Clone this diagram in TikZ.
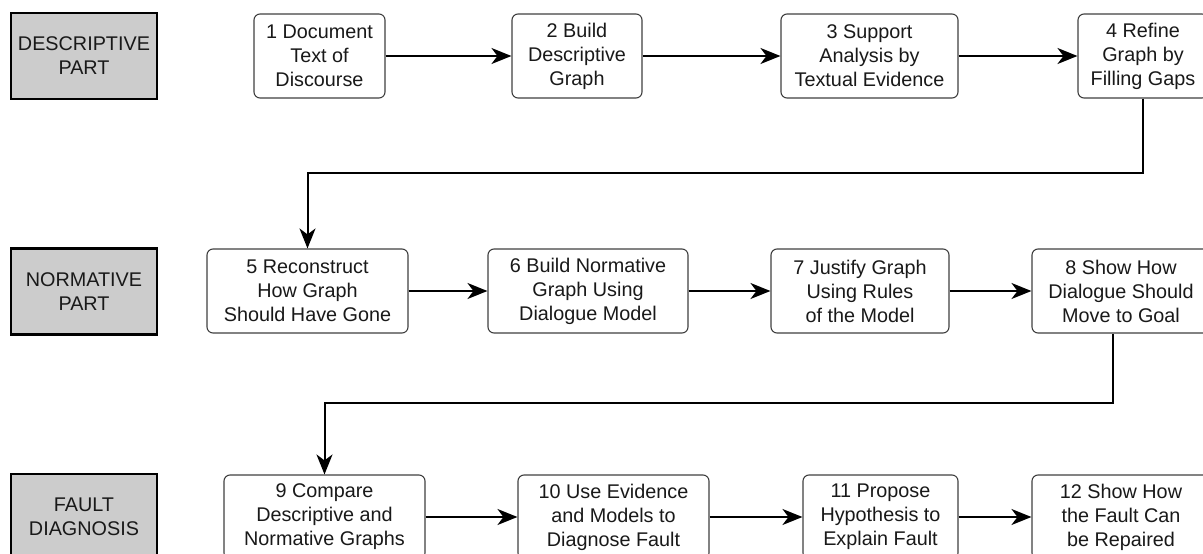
\documentclass[tikz,border=0pt]{standalone}
\usepackage{fontspec}
\setmainfont{Liberation Sans}
\usetikzlibrary{arrows.meta}

\begin{document}
\begin{tikzpicture}[x=1pt,y=-1pt,
    partbox/.style ={draw, line width=2.2pt, fill=black!20, minimum width=146pt, minimum height=86pt,
                     align=center, inner sep=0pt, font=\fontsize{19.8}{24}\selectfont, text=black!90},
    stagebox/.style ={draw=black!75, line width=1.1pt, rounded corners=6pt, fill=white, minimum height=84pt,
                     align=center, inner sep=0pt, font=\fontsize{19.8}{24}\selectfont, text=black!90},
    flow/.style ={line width=2pt, -{Stealth[length=20pt,width=16pt,inset=6pt]}}]
   \useasboundingbox (0,0) rectangle (1203,554);
   \clip (0,0) rectangle (1203,554);
   \node[partbox] (desc) at (84,56) {DESCRIPTIVE\\PART};
   \node[partbox] (norm) at (84,291.5) {NORMATIVE\\PART};
   \node[partbox] (fault) at (84,517) {FAULT\\DIAGNOSIS};
   \node[stagebox, minimum width=131pt] (s1) at (319.5,56) {1 Document\\Text of\\Discourse};
   \node[stagebox, minimum width=130pt] (s2) at (577,56) {2 Build\\Descriptive\\Graph};
   \node[stagebox, minimum width=177pt] (s3) at (869.5,56) {3 Support\\Analysis by\\Textual Evidence};
   \node[stagebox, minimum width=130pt] (s4) at (1143,56) {4 Refine\\Graph by\\Filling Gaps};
   \node[stagebox, minimum width=201pt] (s5) at (307.5,291) {5 Reconstruct\\How Graph\\Should Have Gone};
   \node[stagebox, minimum width=200pt] (s6) at (588,291) {6 Build Normative\\Graph Using\\Dialogue Model};
   \node[stagebox, minimum width=178pt] (s7) at (860,291) {7 Justify Graph\\Using Rules\\of the Model};
   \node[stagebox, minimum width=178pt] (s8) at (1121,291) {8 Show How\\Dialogue Should\\Move to Goal};
   \node[stagebox, minimum width=201pt] (s9) at (324.5,517) {9 Compare\\Descriptive and\\Normative Graphs};
   \node[stagebox, minimum width=191pt] (s10) at (613.5,517) {10 Use Evidence\\and Models to\\Diagnose Fault};
   \node[stagebox, minimum width=155pt] (s11) at (880.5,517) {11 Propose\\Hypothesis to\\Explain Fault};
   \node[stagebox, minimum width=178pt] (s12) at (1121,517) {12 Show How\\the Fault Can\\be Repaired};
   \coordinate (k1) at (1143,173);
   \coordinate (k2) at (1113,403);
   \draw[flow] (s1) -- (s2);
   \draw[flow] (s2) -- (s3);
   \draw[flow] (s3) -- (s4);
   \draw[flow] (s4.south) -- (k1) -| (s5.north);
   \draw[flow] (s5) -- (s6);
   \draw[flow] (s6) -- (s7);
   \draw[flow] (s7) -- (s8);
   \draw[flow] (k2 |- s8.south) -- (k2) -| (s9.north);
   \draw[flow] (s9) -- (s10);
   \draw[flow] (s10) -- (s11);
   \draw[flow] (s11) -- (s12);
 \end{tikzpicture}
\end{document}
